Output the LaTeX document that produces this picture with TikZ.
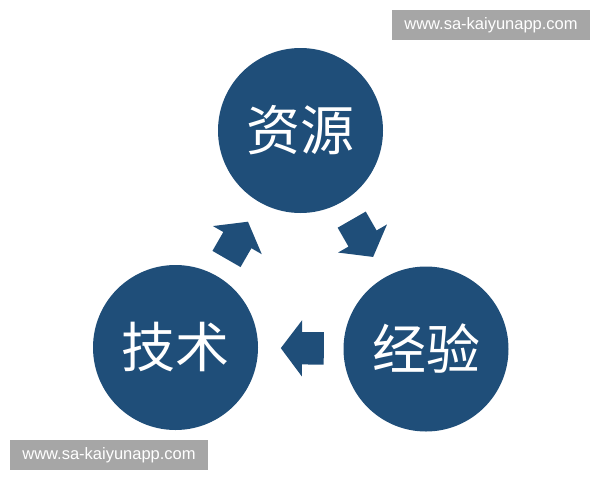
\documentclass[tikz,border=0pt]{standalone}
\usepackage{fontspec}
\setmainfont{Liberation Sans}
\newfontfamily\cjkfont{Noto Sans CJK SC}
\usetikzlibrary{shapes.arrows}
\definecolor{ballblue}{RGB}{31,78,121}
\definecolor{stampgray}{RGB}{166,166,166}

\begin{document}
\begin{tikzpicture}[x=1pt, y=-1pt,
    ball/.style={circle, fill=ballblue, minimum size=165pt, inner sep=0pt,
      text=white, font=\cjkfont\fontsize{54}{54}\selectfont},
    flow/.style={single arrow, fill=ballblue, inner xsep=0pt, inner ysep=16pt,
      minimum height=43pt, single arrow head extend=12pt,
      single arrow tip angle=106, sloped, allow upside down, pos=0.41},
    stamp/.style={fill=stampgray, text=white, minimum width=198pt,
      minimum height=30pt, inner sep=0pt, font=\fontsize{16.5}{16.5}\selectfont}]
  \useasboundingbox (0,0) rectangle (600,480);
  \node[ball] (res) at (300.5,130.5) {资源};
  \node[ball] (tech) at (175.5,347.5) {技术};
  \node[ball] (exper) at (426,349) {经验};
  \path (tech) -- node[flow] (up) {} (res);
  \path (res) -- node[flow] (down) {} (exper);
  \path (exper) -- node[flow] (back) {} (tech);
  \node[stamp] (stamptop) at (491,25) {www.sa-kaiyunapp.com};
  \node[stamp] (stampbot) at (109,455) {www.sa-kaiyunapp.com};
\end{tikzpicture}
\end{document}
